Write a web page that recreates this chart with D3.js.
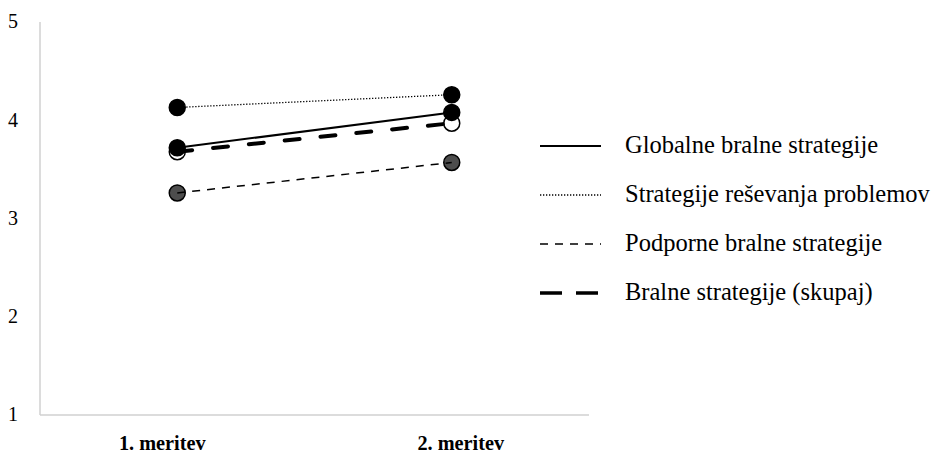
<!DOCTYPE html>
<html>
<head>
<meta charset="utf-8">
<script src="https://cdn.jsdelivr.net/npm/d3@7"></script>
<style>
  html, body { margin: 0; padding: 0; background: #fff; }
  svg { display: block; }
</style>
</head>
<body>
<svg id="chart" width="934" height="455"></svg>
<script>
// Measurement occasions
const categories = ["1. meritev", "2. meritev"];

// Mean scores per strategy group
const globalne = [3.72, 4.08];
const resevanje = [4.13, 4.26];
const podporne = [3.26, 3.57];
const skupaj = [3.68, 3.97];

const seriesNames = [
  "Globalne bralne strategije",
  "Strategije reševanja problemov",
  "Podporne bralne strategije",
  "Bralne strategije (skupaj)"
];

const yTicks = [1, 2, 3, 4, 5];

const FONT = '"Liberation Serif", "Times New Roman", serif';

// Line and marker style for each series
const styles = [
  { values: globalne, width: 2, dash: null, cap: "butt", fill: "#000", legendDash: null },
  { values: resevanje, width: 1.3, dash: "1.3,1.7", cap: "butt", fill: "#000", legendDash: "1.3,1.7" },
  { values: podporne, width: 1.5, dash: "8,7", cap: "butt", fill: "#4d4d4d", legendDash: "8,7" },
  { values: skupaj, width: 4, dash: "15,21", cap: "round", fill: "#fff", legendDash: "22,14" }
];

const svg = d3.select("#chart");
const margin = { left: 40, right: 589, top: 22, bottom: 415 };

const x = d3.scaleBand().domain(categories).range([margin.left, margin.right]);
const y = d3.scaleLinear().domain([1, 5]).range([margin.bottom, margin.top]);

// Axis lines
svg.append("line")
  .attr("x1", margin.left).attr("x2", margin.left)
  .attr("y1", y(5)).attr("y2", y(1))
  .attr("stroke", "#d0d0d0").attr("stroke-width", 1.5);
svg.append("line")
  .attr("x1", margin.left).attr("x2", margin.right)
  .attr("y1", y(1)).attr("y2", y(1))
  .attr("stroke", "#d0d0d0").attr("stroke-width", 1.5);

// Y tick labels
svg.append("g").selectAll("text")
  .data(yTicks).join("text")
  .attr("x", 18).attr("y", d => y(d))
  .attr("dy", "0.32em")
  .attr("text-anchor", "end")
  .style("font-family", FONT)
  .style("font-size", "20px")
  .attr("fill", "#000")
  .text(d => d);

// X category labels
svg.append("g").selectAll("text")
  .data(categories).join("text")
  .attr("x", d => x(d) + x.bandwidth() / 2 + (d === categories[0] ? -15 : 9))
  .attr("y", 450)
  .attr("text-anchor", "middle")
  .style("font-family", FONT)
  .style("font-size", "20.3px")
  .style("font-weight", "bold")
  .attr("fill", "#000")
  .text(d => d);

const cx = c => x(c) + x.bandwidth() / 2;

// Markers: the white ones sit underneath the others
const markerOrder = [3, 2, 1, 0];
markerOrder.forEach(i => {
  const s = styles[i];
  svg.append("g").selectAll("circle")
    .data(s.values).join("circle")
    .attr("cx", (d, j) => cx(categories[j]))
    .attr("cy", d => y(d))
    .attr("r", 8)
    .attr("fill", s.fill)
    .attr("stroke", "#000")
    .attr("stroke-width", 1.5);
});

// Lines
const line = d3.line()
  .x((d, j) => cx(categories[j]))
  .y(d => y(d));

styles.forEach(s => {
  svg.append("path")
    .datum(s.values)
    .attr("d", line)
    .attr("fill", "none")
    .attr("stroke", "#000")
    .attr("stroke-width", s.width)
    .attr("stroke-linecap", s.cap)
    .attr("stroke-dasharray", s.dash);
});

// Legend
const legendY = [146, 195, 244, 293];
const legend = svg.append("g");
styles.forEach((s, i) => {
  legend.append("line")
    .attr("x1", 540).attr("x2", 601)
    .attr("y1", legendY[i]).attr("y2", legendY[i])
    .attr("stroke", "#000")
    .attr("stroke-width", s.width === 4 ? 3.5 : s.width)
    .attr("stroke-dasharray", s.legendDash);
  legend.append("text")
    .attr("x", 625).attr("y", legendY[i])
    .attr("dy", "0.3em")
    .style("font-family", FONT)
    .style("font-size", "24.5px")
    .attr("fill", "#000")
    .text(seriesNames[i]);
});
</script>
</body>
</html>
